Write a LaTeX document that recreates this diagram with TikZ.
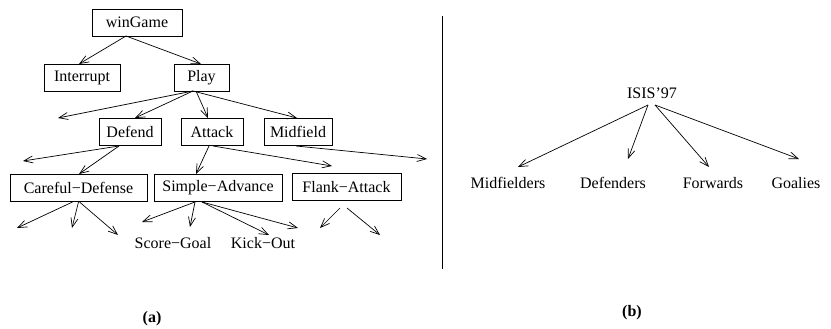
\documentclass[tikz,border=0pt]{standalone}
\usepackage{fontspec}
\setmainfont{Liberation Serif}
\usetikzlibrary{arrows.meta,calc}
\begin{document}
\begin{tikzpicture}[x=1pt,y=-1pt,
  box/.style={draw,line width=0.8pt,minimum height=27pt,inner sep=0pt,font=\fontsize{16}{19}\selectfont},
  lbl/.style={inner sep=0pt,font=\fontsize{16}{19}\selectfont},
  captxt/.style={inner sep=0pt,font=\fontsize{16}{19}\selectfont\bfseries},
  arr/.style={line width=0.7pt,-{Straight Barb[length=9pt,width=7pt,line width=0.7pt]}}]
\useasboundingbox (0,0) rectangle (831,329);
% panel (a) nodes
\node[box,minimum width=90pt] (W) at (137,22.5) {winGame};
\node[box,minimum width=76pt] (I) at (82,77.5) {Interrupt};
\node[box,minimum width=55pt] (P) at (201.5,77.5) {Play};
\node[box,minimum width=62pt] (D) at (130,132) {Defend};
\node[box,minimum width=62pt] (A) at (212,132) {Attack};
\node[box,minimum width=68pt] (M) at (298,132) {Midfield};
\node[box,minimum width=137pt] (C) at (78.5,188) {Careful−Defense};
\node[box,minimum width=128pt] (S) at (218,188) {Simple−Advance};
\node[box,minimum width=109pt] (F) at (346.5,187) {Flank−Attack};
\node[lbl] (SG) at (173,243) {Score−Goal};
\node[lbl] (KO) at (263,243) {Kick−Out};
% free ends
\coordinate (f1) at (58,118);
\coordinate (f2) at (23,161);
\coordinate (f3) at (427,159);
\coordinate (f4) at (17,228);
\coordinate (f5) at (72,228);
\coordinate (f6) at (118,235);
\coordinate (f7) at (142,222);
\coordinate (f8) at (298,228);
\coordinate (f9) at (320,228);
\coordinate (f10) at (380,235);
% connectors (a)
\draw[arr] ($(W)+(-11,13.5)$) -- ($(I)+(-3,-13.5)$);
\draw[arr] ($(W)+(-11,13.5)$) -- ($(P)+(-0.5,-13.5)$);
\draw[arr] ($(P)+(-8.5,13.5)$) -- (f1);
\draw[arr] ($(P)+(-8.5,13.5)$) -- ($(D)+(5,-14)$);
\draw[arr] ($(P)+(-5.5,13.5)$) -- ($(A)+(-4,-14)$);
\draw[arr] ($(P)+(-8.5,13.5)$) -- ($(M)+(-1,-14)$);
\draw[arr] ($(D)+(-11,14)$) -- (f2);
\draw[arr] ($(D)+(-11,14)$) -- ($(C)+(0.5,-14)$);
\draw[arr] ($(A)+(-3,14)$) -- ($(S)+(-22,-14)$);
\draw[arr] ($(A)+(1,14)$) -- ($(F)+(-14.5,-21)$);
\draw[arr] ($(M)+(-2,14)$) -- (f3);
\draw[arr] ($(C)+(-6,14)$) -- (f4);
\draw[arr] ($(C)+(0,14)$) -- (f5);
\draw[arr] ($(C)+(1,14)$) -- (f6);
\draw[arr] ($(S)+(-23,14)$) -- (f7);
\draw[arr] ($(S)+(-23,14)$) -- ($(SG)+(17,-16)$);
\draw[arr] ($(S)+(-16,14)$) -- ($(KO)+(6,-8)$);
\draw[arr] ($(S)+(-16,14)$) -- (f8);
\draw[arr] ($(F)+(-6.5,21)$) -- (f9);
\draw[arr] ($(F)+(0.5,21)$) -- (f10);
% divider
\coordinate (v1) at (442,16);
\coordinate (v2) at (442,269);
\draw[line width=1pt] (v1) -- (v2);
% panel (b)
\node[lbl] (IS) at (652,93) {ISIS’97};
\node[lbl] (Mi) at (508,183) {Midfielders};
\node[lbl] (De) at (613,183) {Defenders};
\node[lbl] (Fw) at (713,183) {Forwards};
\node[lbl] (Go) at (796,183) {Goalies};
\draw[arr] ($(IS)+(-4,12)$) -- ($(Mi)+(10,-16)$);
\draw[arr] ($(IS)+(-4,12)$) -- ($(De)+(15,-24)$);
\draw[arr] ($(IS)+(3,12)$) -- ($(Fw)+(-4,-16)$);
\draw[arr] ($(IS)+(3,12)$) -- ($(Go)+(3,-24)$);
% captions
\node[captxt] (ca) at (152,319) {(a)};
\node[captxt] (cb) at (632,313) {(b)};
\end{tikzpicture}
\end{document}
